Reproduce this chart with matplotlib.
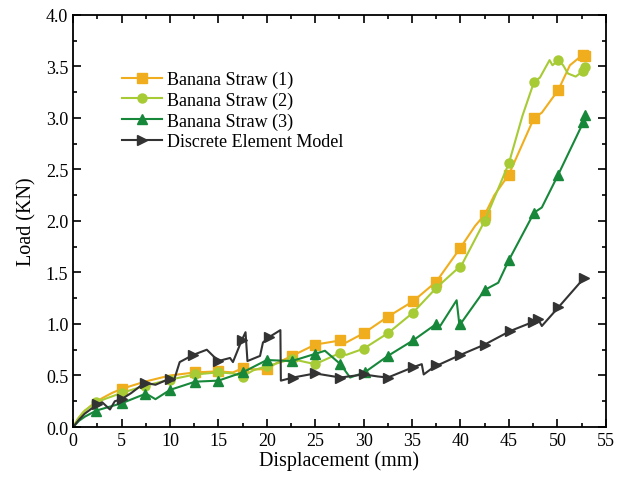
import numpy as np
import matplotlib
matplotlib.use("Agg")
import matplotlib.pyplot as plt
from matplotlib.ticker import MultipleLocator, FormatStrFormatter

plt.rcParams['font.family'] = ['Liberation Serif', 'DejaVu Serif']

# Banana Straw (1)
x1 = [0, 0.5, 1.0, 2.0, 3.0, 4.0, 5.0, 7.4, 10.0, 12.6, 15.0, 16.5, 17.5, 18.6, 20.0, 21.0, 22.6, 25.0, 27.6, 28.2,
      30.0, 32.5, 35.1, 37.5, 40.0, 41.5, 42.5, 43.5, 45.0, 47.6, 48.4, 50.1, 51.3, 52.6, 52.9]
y1 = [0.0, 0.08, 0.14, 0.22, 0.28, 0.33, 0.37, 0.44, 0.50, 0.53, 0.54, 0.53, 0.57, 0.56, 0.56, 0.62, 0.69, 0.80, 0.84, 0.82,
      0.91, 1.07, 1.22, 1.41, 1.74, 1.95, 2.06, 2.25, 2.45, 3.00, 3.05, 3.27, 3.51, 3.61, 3.60]
m1 = [5.0, 12.6, 15.0, 17.5, 20.0, 22.6, 25.0, 27.6, 30.0, 32.5, 35.1, 37.5, 40.0, 42.5, 45.0, 47.6, 50.1, 52.6, 52.9]

# Banana Straw (2)
x2 = [0, 0.5, 1.2, 2.4, 3.5, 5.0, 7.4, 10.0, 12.6, 15.0, 16.5, 17.5, 18.6, 20.0, 22.6, 24.0, 25.0, 27.6, 28.2,
      30.0, 32.5, 35.1, 37.5, 39.5, 40.0, 42.5, 45.0, 46.4, 47.6, 48.2, 49.2, 49.5, 50.1, 50.6, 51.1, 51.9, 52.6, 52.9]
y2 = [0.0, 0.08, 0.16, 0.24, 0.28, 0.33, 0.40, 0.46, 0.51, 0.53, 0.52, 0.49, 0.55, 0.59, 0.66, 0.63, 0.61, 0.72, 0.70,
      0.76, 0.91, 1.11, 1.35, 1.52, 1.55, 2.00, 2.56, 3.02, 3.35, 3.39, 3.56, 3.51, 3.56, 3.51, 3.43, 3.40, 3.45, 3.49]
m2 = [2.4, 5.0, 7.4, 10.0, 12.6, 15.0, 17.5, 20.0, 22.6, 25.0, 27.6, 30.0, 32.5, 35.1, 37.5, 40.0, 42.5,
      45.0, 47.6, 50.1, 52.6, 52.9]

# Banana Straw (3)
x3 = [0, 0.6, 1.2, 2.4, 5.0, 7.4, 7.6, 8.5, 10.0, 12.6, 15.0, 17.5, 20.0, 22.6, 25.0, 26.0, 27.6, 28.6,
      30.1, 32.5, 35.1, 37.5, 37.9, 39.6, 39.9, 40.0, 42.5, 43.9, 45.0, 47.6, 48.4, 50.1, 52.7, 52.9]
y3 = [0.0, 0.06, 0.10, 0.16, 0.23, 0.32, 0.32, 0.27, 0.36, 0.44, 0.45, 0.53, 0.65, 0.64, 0.71, 0.74, 0.61, 0.48,
      0.53, 0.69, 0.84, 1.00, 0.98, 1.23, 0.98, 1.00, 1.33, 1.40, 1.62, 2.08, 2.13, 2.45, 2.96, 3.03]
m3 = [2.4, 5.0, 7.4, 10.0, 12.6, 15.0, 17.5, 20.0, 22.6, 25.0, 27.6, 30.1, 32.5, 35.1, 37.5, 40.0, 42.5,
      45.0, 47.6, 50.1, 52.7, 52.9]

# Discrete Element Model
x4 = [0, 0.6, 1.2, 2.5, 3.0, 3.8, 4.3, 5.0, 6.0, 7.4, 8.5, 10.0, 10.4, 11.0, 12.4, 13.8, 15.0, 16.2, 16.5,
      17.4, 17.8, 18.0, 19.3, 19.6, 20.2, 21.4, 21.45, 22.7, 25.0, 27.6, 30.0, 31.5, 32.5, 35.1, 36.0,
      36.2, 37.5, 37.9, 40.0, 42.5, 45.1, 47.5, 48.0, 48.4, 50.1, 52.8]
y4 = [0.0, 0.07, 0.13, 0.22, 0.24, 0.17, 0.25, 0.27, 0.33, 0.43, 0.41, 0.47, 0.45, 0.63, 0.70, 0.75, 0.64, 0.67, 0.63,
      0.84, 0.92, 0.64, 0.69, 0.82, 0.87, 0.94, 0.45, 0.48, 0.52, 0.48, 0.51, 0.49, 0.48, 0.58, 0.61,
      0.51, 0.60, 0.61, 0.70, 0.80, 0.93, 1.02, 1.05, 0.98, 1.16, 1.45]
m4 = [2.5, 5.0, 7.4, 10.0, 12.4, 15.0, 17.4, 20.2, 22.7, 25.0, 27.6, 30.0, 32.5, 35.1, 37.5, 40.0, 42.5,
      45.1, 47.5, 48.0, 50.1, 52.8]

series = [
    (x1, y1, m1, 'Banana Straw (1)', '#F0AE1E', 's'),
    (x2, y2, m2, 'Banana Straw (2)', '#A6CB35', 'o'),
    (x3, y3, m3, 'Banana Straw (3)', '#17873A', '^'),
    (x4, y4, m4, 'Discrete Element Model', '#333333', '>'),
]

fig = plt.figure(figsize=(6.2, 4.85), dpi=100)
ax = fig.add_axes([0.118, 0.1175, 0.859, 0.85])

for x, y, m, lab, col, mk in series:
    x = np.array(x); y = np.array(y)
    idx = [int(np.argmin(np.abs(x - v))) for v in m]
    ax.plot(x, y, color=col, lw=1.5, marker=mk, markevery=idx, ms=6.5, label=lab,
            markeredgecolor=col, markerfacecolor=col)

ax.set_xlim(0, 55)
ax.set_ylim(0, 4.0)
ax.xaxis.set_major_locator(MultipleLocator(5))
ax.xaxis.set_minor_locator(MultipleLocator(2.5))
ax.yaxis.set_major_locator(MultipleLocator(0.5))
ax.yaxis.set_minor_locator(MultipleLocator(0.25))
ax.yaxis.set_major_formatter(FormatStrFormatter('%.1f'))
ax.tick_params(which='both', direction='in', top=True, right=True, labelsize=13, width=1.2)
ax.tick_params(which='major', length=6)
ax.tick_params(which='minor', length=3)
for s in ax.spines.values():
    s.set_linewidth(1.3)

ax.set_xlabel('Displacement (mm)', fontsize=14.5, labelpad=1)
ax.set_ylabel('Load (KN)', fontsize=14.5, labelpad=7)

ax.legend(loc='upper left', bbox_to_anchor=(0.078, 0.882), frameon=False, fontsize=13,
          handlelength=2.2, handletextpad=0.3, labelspacing=0.2, borderaxespad=0)

fig.savefig('out.png', dpi=100)
